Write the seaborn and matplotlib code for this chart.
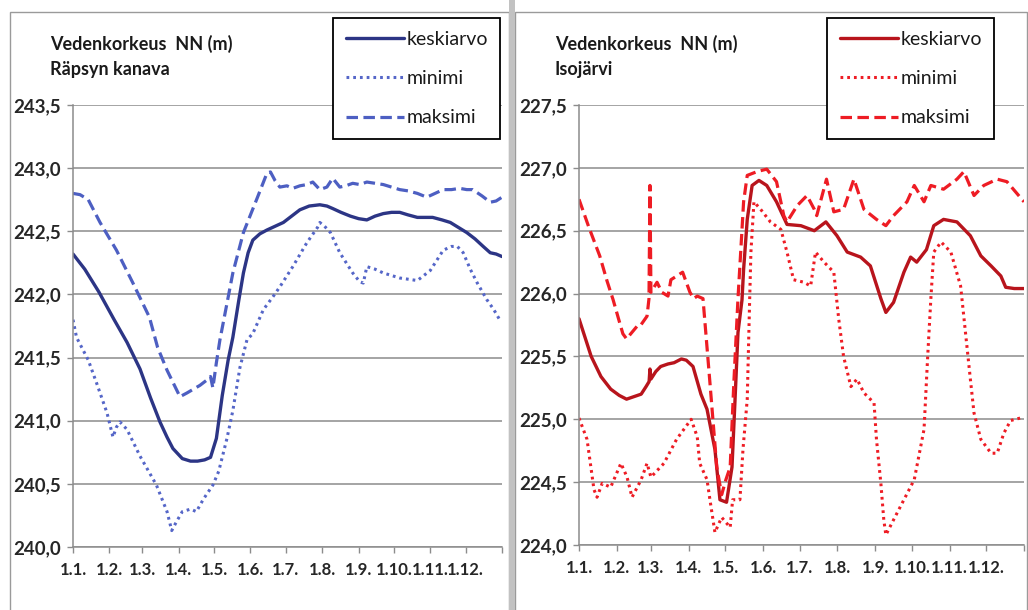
import matplotlib
matplotlib.use("Agg")
import matplotlib.pyplot as plt
from matplotlib.patches import Rectangle
from matplotlib.lines import Line2D
import numpy as np
import pandas as pd
import seaborn as sns

# Month boundaries (day of year) and their labels
month_days = [0, 31, 59, 90, 120, 151, 181, 212, 243, 273, 304, 334, 365]
month_labels = ["1.1.", "1.2.", "1.3.", "1.4.", "1.5.", "1.6.", "1.7.",
                "1.8.", "1.9.", "1.10.", "1.11.", "1.12.", ""]

# --- Räpsyn kanava ---------------------------------------------------------
rapsy_mean_days = [0, 10, 22, 35, 46, 57, 66, 74, 80, 85, 93, 100, 106, 112, 117,
                   122, 127, 132, 136, 141, 145, 149, 153, 159, 165, 172, 179, 186,
                   193, 201, 210, 216, 221, 228, 236, 243, 250, 257, 264, 271, 278,
                   285, 293, 300, 306, 314, 321, 328, 335, 342, 349, 355, 360, 365]
rapsy_mean = [242.32, 242.20, 242.02, 241.80, 241.62, 241.41, 241.18, 240.99, 240.87,
              240.78, 240.70, 240.68, 240.68, 240.69, 240.71, 240.86, 241.20, 241.48,
              241.66, 241.95, 242.17, 242.33, 242.43, 242.48, 242.51, 242.54, 242.57,
              242.62, 242.67, 242.70, 242.71, 242.70, 242.68, 242.65, 242.62, 242.60,
              242.59, 242.62, 242.64, 242.65, 242.65, 242.63, 242.61, 242.61, 242.61,
              242.59, 242.57, 242.53, 242.49, 242.44, 242.38, 242.33, 242.32, 242.30]

rapsy_min_days = [0, 3, 13, 20, 29, 34, 37, 40, 46, 57, 71, 80, 84, 88, 93, 100, 105,
                  108, 111, 119, 124, 131, 136, 142, 148, 153, 162, 170, 176, 187, 199,
                  208, 210, 214, 219, 227, 238, 244, 247, 250, 257, 264, 278, 293, 304,
                  315, 322, 327, 332, 338, 344, 352, 358, 363]
rapsy_min = [241.80, 241.66, 241.48, 241.30, 241.06, 240.87, 240.95, 240.99, 240.93,
             240.72, 240.49, 240.28, 240.13, 240.20, 240.28, 240.30, 240.28, 240.33,
             240.38, 240.49, 240.60, 240.86, 241.08, 241.42, 241.64, 241.69, 241.88,
             241.98, 242.06, 242.22, 242.41, 242.53, 242.57, 242.54, 242.49, 242.33,
             242.17, 242.10, 242.09, 242.22, 242.20, 242.17, 242.13, 242.11, 242.19,
             242.35, 242.38, 242.38, 242.33, 242.20, 242.09, 241.96, 241.88, 241.80]

rapsy_max_days = [0, 6, 13, 23, 37, 51, 65, 72, 80, 91, 97, 108, 115, 117, 119, 122,
                  125, 136, 145, 157, 165, 168, 172, 176, 182, 187, 193, 199, 204, 210,
                  216, 221, 227, 232, 238, 244, 250, 257, 264, 271, 278, 285, 293, 301,
                  308, 315, 322, 329, 335, 340, 348, 355, 360, 365]
rapsy_max = [242.80, 242.79, 242.75, 242.57, 242.35, 242.09, 241.82, 241.58, 241.40,
             241.19, 241.22, 241.28, 241.33, 241.35, 241.26, 241.46, 241.64, 242.17,
             242.49, 242.77, 242.96, 242.97, 242.90, 242.85, 242.86, 242.84, 242.86,
             242.87, 242.89, 242.83, 242.85, 242.92, 242.85, 242.86, 242.88, 242.87,
             242.89, 242.88, 242.87, 242.85, 242.83, 242.82, 242.80, 242.77, 242.80,
             242.83, 242.83, 242.84, 242.83, 242.83, 242.78, 242.73, 242.74, 242.77]

# --- Isojärvi --------------------------------------------------------------
iso_mean_days = [0, 10, 18, 26, 33, 39, 45, 51, 55, 57.5, 58.2, 59, 63, 67, 73, 78,
                 84, 88, 93.5, 100, 105, 111.5, 115.6, 121, 125.5, 128, 130.4, 133.7,
                 135, 138, 142, 147.6, 154, 162, 170.6, 182, 193, 202.5, 211.6, 220,
                 231, 239, 247.6, 251.7, 258, 266.5, 272, 277, 285, 291, 299, 310, 321,
                 329.6, 338, 346, 350, 357, 365]
iso_mean = [225.80, 225.50, 225.34, 225.24, 225.19, 225.16, 225.18, 225.20, 225.26,
            225.30, 225.40, 225.32, 225.38, 225.42, 225.44, 225.45, 225.48, 225.47,
            225.42, 225.20, 225.08, 224.76, 224.36, 224.34, 224.62, 225.16, 225.69,
            225.95, 226.19, 226.59, 226.86, 226.90, 226.86, 226.73, 226.55, 226.54,
            226.50, 226.57, 226.46, 226.33, 226.29, 226.22, 225.96, 225.85, 225.93,
            226.17, 226.29, 226.25, 226.35, 226.54, 226.59, 226.57, 226.46, 226.30,
            226.22, 226.14, 226.05, 226.04, 226.04]

iso_min_days = [0, 6.6, 12.3, 14.8, 19, 26, 34.4, 39.4, 43.5, 51, 55.8, 59, 69.7, 80,
                92, 97, 99, 105, 107.4, 111.5, 117, 124, 126, 132, 134.5, 138, 140,
                141, 143.5, 149, 157, 165.6, 170.6, 176, 184.5, 190, 194, 201, 209,
                213, 217, 223, 228, 233.7, 242, 244, 247.6, 250, 251.7, 258, 266.5,
                275, 283, 286, 288.6, 291, 297, 305, 313, 317, 321, 324, 329.6, 338,
                343, 348.5, 354, 362]
iso_min = [225.01, 224.84, 224.44, 224.38, 224.49, 224.46, 224.65, 224.54, 224.38,
           224.52, 224.65, 224.54, 224.65, 224.84, 225.00, 224.86, 224.65, 224.52,
           224.36, 224.10, 224.22, 224.14, 224.36, 224.36, 224.76, 225.16, 225.96,
           226.33, 226.73, 226.67, 226.57, 226.51, 226.33, 226.11, 226.09, 226.06,
           226.33, 226.25, 226.17, 225.80, 225.50, 225.26, 225.32, 225.21, 225.13,
           224.84, 224.49, 224.20, 224.08, 224.20, 224.36, 224.52, 224.92, 225.50,
           225.96, 226.33, 226.41, 226.33, 226.06, 225.69, 225.32, 225.05, 224.84,
           224.73, 224.73, 224.89, 224.99, 225.01]

iso_max_days = [0, 8, 17, 23, 28, 33, 36, 39, 47.6, 50, 55.8, 57.4, 58.2, 59,
                64, 68, 73, 75.4, 85, 91, 94, 97, 101.7, 107.4, 113, 117, 120.5, 124,
                127, 130.4, 133.7, 135, 138, 146, 154, 162, 168, 170.6, 179, 187, 193,
                195, 203, 209, 217, 225.5, 233.7, 244, 251.7, 258, 269, 275, 283,
                288.6, 299, 310, 315.7, 324, 332, 343, 351, 365]
iso_max = [226.75, 226.53, 226.30, 226.10, 225.95, 225.78, 225.68, 225.64,
           225.74, 225.74, 225.82, 225.96, 226.86, 226.01, 226.09, 226.01, 225.98,
           226.11, 226.17, 226.01, 225.96, 225.98, 225.96, 225.29, 224.62, 224.40,
           224.52, 224.62, 225.29, 225.96, 226.51, 226.73, 226.94, 226.97, 226.99,
           226.89, 226.62, 226.57, 226.70, 226.78, 226.67, 226.62, 226.91, 226.65,
           226.67, 226.91, 226.67, 226.59, 226.54, 226.62, 226.73, 226.86, 226.73,
           226.86, 226.83, 226.91, 226.97, 226.78, 226.86, 226.91, 226.89, 226.73]

series_labels = ["keskiarvo", "minimi", "maksimi"]

sns.set_theme(style="white")
plt.rcParams["font.family"] = ["Lato", "DejaVu Sans"]

W, H = 1028, 610
fig = plt.figure(figsize=(W / 100, H / 100), dpi=100)
fig.patch.set_facecolor("white")

# chart frames and the grey separator between them
fig.add_artist(Rectangle((10 / W, -0.01), (509 - 10) / W, (H - 12) / H + 0.01,
                         transform=fig.transFigure, fill=False,
                         edgecolor="#9a9a9a", lw=1.0))
fig.add_artist(Rectangle((515 / W, -0.01), (1027 - 515) / W, (H - 12) / H + 0.01,
                         transform=fig.transFigure, fill=False,
                         edgecolor="#9a9a9a", lw=1.0))
fig.add_artist(Rectangle((509 / W, 0), 6 / W, 1, transform=fig.transFigure,
                         facecolor="#c2c2c2", edgecolor="none"))

GRID = "#8c8c8c"
TICKCOL = "#262626"


def fig_box(x0, x1, ytop, ybot):
    return [x0 / W, 1 - ybot / H, (x1 - x0) / W, (ybot - ytop) / H]


def draw_panel(ax, data, colors, y0, y1, place, legend_box, title_x):
    styles = [dict(lw=2.4, linestyle="-"),
              dict(lw=2.2, linestyle=(0, (0.9, 1.3))),
              dict(lw=2.3, linestyle=(0, (3.6, 1.7)))]
    handles = []
    for (days, vals), col, st, lab in zip(data, colors, styles, series_labels):
        df = pd.DataFrame({"päivä": days, "NN (m)": vals})
        sns.lineplot(data=df, x="päivä", y="NN (m)", ax=ax, color=col,
                     estimator=None, sort=True, lw=st["lw"],
                     linestyle=st["linestyle"])
        handles.append(Line2D([], [], color=col, lw=st["lw"],
                              linestyle=st["linestyle"]))

    ax.set_xlim(0, 365)
    ax.set_ylim(y0, y1)
    yt = np.arange(y0, y1 + 0.01, 0.5)
    ax.set_yticks(yt)
    ax.set_yticklabels([f"{v:.1f}".replace(".", ",") for v in yt])
    ax.set_xticks(month_days)
    ax.set_xticklabels(month_labels)
    ax.set_xlabel("")
    ax.set_ylabel("")
    ax.yaxis.grid(True, color=GRID, lw=1.1)
    ax.xaxis.grid(False)
    ax.set_axisbelow(True)
    for s in ["top", "right"]:
        ax.spines[s].set_visible(False)
    for s in ["left", "bottom"]:
        ax.spines[s].set_color(GRID)
        ax.spines[s].set_linewidth(1.1)
    ax.tick_params(axis="y", length=4, width=1.0, color=GRID, pad=5,
                   labelsize=13.5, labelcolor=TICKCOL, left=True)
    ax.tick_params(axis="x", length=4, width=1.0, color=GRID, pad=7,
                   labelsize=12, labelcolor=TICKCOL, bottom=True)
    for lab in ax.get_xticklabels() + ax.get_yticklabels():
        lab.set_fontweight("bold")

    lx0, ly0 = legend_box
    leg = ax.legend(handles, series_labels, loc="upper left",
                    bbox_to_anchor=(lx0 / W, 1 - ly0 / H),
                    bbox_transform=fig.transFigure, frameon=True,
                    fancybox=False, framealpha=1, edgecolor="black",
                    fontsize=14, borderpad=0.65, labelspacing=1.15,
                    handlelength=3.0, handletextpad=0.12, borderaxespad=0)
    leg.get_frame().set_linewidth(1.3)
    for t in leg.get_texts():
        t.set_color("#1a1a1a")

    fig.text(title_x / W, 1 - 44 / H, "Vedenkorkeus  NN (m)", fontsize=13,
             fontweight="bold", color="#1a1a1a", va="center", ha="left")
    fig.text(title_x / W, 1 - 69 / H, place, fontsize=13,
             fontweight="bold", color="#1a1a1a", va="center", ha="left")


ax1 = fig.add_axes(fig_box(73, 502, 105, 547))
ax2 = fig.add_axes(fig_box(579, 1024, 105, 545))
for a in (ax1, ax2):
    a.set_facecolor("none")

draw_panel(ax1,
           [(rapsy_mean_days, rapsy_mean), (rapsy_min_days, rapsy_min),
            (rapsy_max_days, rapsy_max)],
           ["#2c3585", "#5566c8", "#4d5fc2"],
           240.0, 243.5, "Räpsyn kanava", (333, 18), 50)
draw_panel(ax2,
           [(iso_mean_days, iso_mean), (iso_min_days, iso_min),
            (iso_max_days, iso_max)],
           ["#b8141c", "#ee1c24", "#ee1c24"],
           224.0, 227.5, "Isojärvi", (827, 18), 555)

fig.savefig("out.png", dpi=100, facecolor="white")
